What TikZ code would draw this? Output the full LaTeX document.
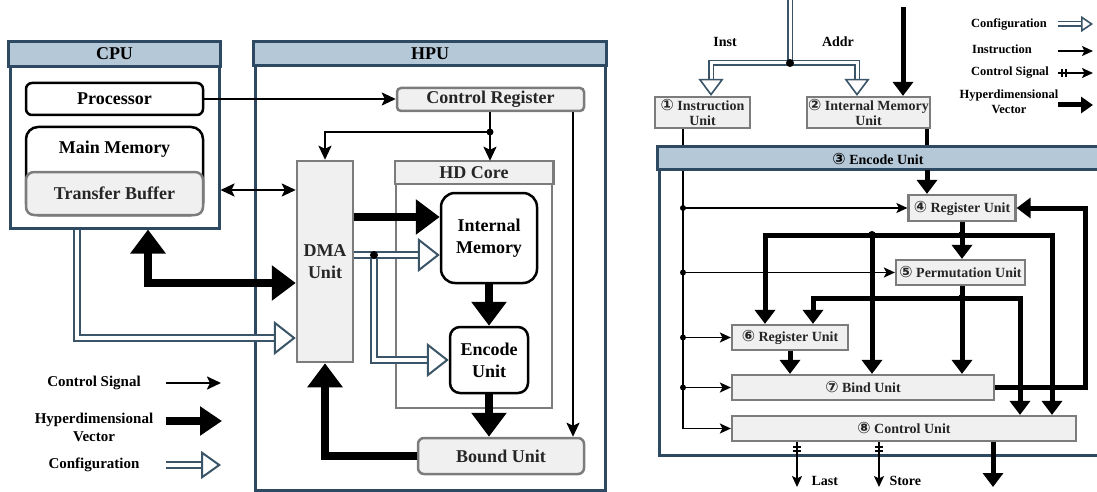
\documentclass[tikz,border=0pt]{standalone}
\usepackage{fontspec}
\setmainfont{Liberation Serif}
\newfontfamily\circfont{DejaVu Sans}[Scale=1.12]
\usetikzlibrary{arrows.meta,calc}
\definecolor{frameblue}{HTML}{2E4A62}
\definecolor{bandfill}{HTML}{B5C8D8}
\definecolor{boxfill}{HTML}{F0F0F0}
\definecolor{boxgray}{HTML}{7C7C7C}
\definecolor{cfgc}{HTML}{3A5468}
\newcommand\cnum[1]{{\circfont #1}}
\tikzset{
  big/.style={font=\fontsize{18}{22}\selectfont\bfseries, align=center},
  leg/.style={font=\fontsize{15}{18}\selectfont\bfseries, align=center},
  sml/.style={font=\fontsize{14}{15}\selectfont\bfseries, align=center},
  tinytext/.style={font=\fontsize{12.5}{15}\selectfont\bfseries, align=center},
  unitframe/.style={draw=frameblue, line width=3pt},
  unitband/.style={draw=frameblue, fill=bandfill, line width=3pt},
  gbox/.style={draw=boxgray, fill=boxfill, line width=2.5pt, rounded corners=4pt, inner sep=0pt, text=black!85},
  bbox/.style={draw=black, fill=white, line width=2.5pt, rounded corners=10pt, inner sep=0pt},
  rbox/.style={draw=boxgray, fill=boxfill, line width=2.2pt, inner sep=0pt, sml, text=black!85},
  ctl/.style={draw=black, line width=2.2pt, -{Stealth[length=14pt,width=13pt,inset=3pt]}},
  ctlboth/.style={draw=black, line width=2.2pt, {Stealth[length=14pt,width=13pt,inset=3pt]}-{Stealth[length=14pt,width=13pt,inset=3pt]}},
  hd/.style={draw=black, line width=8pt, -{Triangle[length=24pt,width=34pt]}},
  hdboth/.style={draw=black, line width=8pt, {Triangle[length=24pt,width=34pt]}-{Triangle[length=24pt,width=34pt]}},
  cfg/.style={draw=cfgc, line width=2pt, double=white, double distance=3.5pt},
  cfgtip/.style={draw=cfgc, line width=2pt, -{Triangle[length=22pt,width=34pt,fill=white]}},
  ctltwo/.style={draw=black, line width=1.8pt, -{Stealth[length=11pt,width=10pt,inset=2.5pt]}},
  thinline/.style={draw=black, line width=1.8pt},
  hdtwo/.style={draw=black, line width=5pt, -{Triangle[length=14pt,width=20pt]}},
  cfgtwo/.style={draw=cfgc, line width=1.6pt, double=white, double distance=3pt},
  cfgtwotip/.style={draw=cfgc, line width=1.6pt, -{Triangle[length=17pt,width=25pt,fill=white]}},
  jdot/.style={circle, fill=black, inner sep=0pt, minimum size=8pt},
  sdot/.style={circle, fill=black, inner sep=0pt, minimum size=6pt},
}
\begin{document}
\begin{tikzpicture}[x=1pt,y=-1pt]
\useasboundingbox (0,0) rectangle (1097,492);

% ---------- left: CPU / HPU ----------
\node[unitframe, minimum width=209, minimum height=185] (cpu) at (114.5,135.5) {};
\draw[unitband] (cpu.north west) rectangle ($(cpu.north east)+(0,25)$);
\node[big] (cputitle) at ($(cpu.north)+(0,12.5)$) {CPU};

\node[unitframe, minimum width=350, minimum height=447] (hpu) at (430,266.5) {};
\draw[unitband] (hpu.north west) rectangle ($(hpu.north east)+(0,24)$);
\node[big] (hputitle) at ($(hpu.north)+(0,12)$) {HPU};

\node[bbox, big, minimum width=177, minimum height=32, rounded corners=6pt] (proc) at (114.5,99) {Processor};
\node[bbox, minimum width=177, minimum height=88, rounded corners=12pt] (mem) at (114.5,171) {};
\node[big] (memtitle) at (114.5,149) {Main Memory};
\node[gbox, big, minimum width=177, minimum height=43, rounded corners=8pt] (tbuf) at (114.5,193.5) {Transfer Buffer};

\node[gbox, big, minimum width=187, minimum height=23] (cr) at (490.5,99.5) {Control Register};
\node[gbox, big, rounded corners=0pt, minimum width=56, minimum height=201] (dma) at (325,261.5) {DMA\\Unit};
\node[draw=boxgray, line width=2.5pt, minimum width=156, minimum height=246] (hdc) at (474,285) {};
\draw[draw=boxgray, fill=boxfill, line width=2.5pt] (hdc.north west) rectangle ($(hdc.north east)+(0,23)$);
\node[big, text=black!85] (hdctitle) at ($(hdc.north)+(0,11.5)$) {HD Core};
\node[bbox, big, minimum width=96, minimum height=90, rounded corners=14pt] (im) at (489,238) {Internal\\Memory};
\node[bbox, big, minimum width=78, minimum height=66, rounded corners=10pt] (enc) at (489,360) {Encode\\Unit};
\node[gbox, big, minimum width=166, minimum height=36, rounded corners=6pt] (bound) at (501,456) {Bound Unit};

% control paths
\coordinate (crdot) at (490,132);
\coordinate (crx) at (573,0);
\coordinate (biy) at (0,190);
\draw[thinline, line width=2.2pt] (cr.south -| crdot) -- (crdot);
\draw[ctl] (crdot) -| (dma.north);
\draw[ctl] (crdot) -- (crdot |- hdc.north);
\node[sdot, minimum size=7pt] (crdotmark) at (crdot) {};
\draw[ctl] (proc.east) -- (proc.east -| cr.west);
\draw[ctl] (cr.south -| crx) -- (bound.north -| crx);
\draw[ctlboth] (cpu.east |- biy) -- (dma.west |- biy);

% hyperdimensional vectors
\coordinate (hdx) at (148,283);
\coordinate (hdy) at (0,217);
\draw[hdboth] (cpu.south -| hdx) |- (dma.west |- hdx);
\draw[hd] (dma.east |- hdy) -- (im.west |- hdy);
\draw[hd] (im.south) -- (enc.north);
\draw[hd] (enc.south) -- (enc.south |- bound.north);
\draw[hd] (bound.west) -| (dma.south);

% configuration
\coordinate (cfx) at (77,338);
\coordinate (cdot1) at (374,255);
\draw[cfg] (cpu.south -| cfx) |- ($(dma.west |- cfx)+(-20,0)$);
\draw[cfgtip] ($(dma.west |- cfx)+(-22,0)$) -- (dma.west |- cfx);
\draw[cfg] (cdot1) |- ($(enc.west)+(-20,0)$);
\draw[cfgtip] ($(enc.west)+(-22,0)$) -- (enc.west);
\draw[cfg] (dma.east |- cdot1) -- ($(im.west |- cdot1)+(-20,0)$);
\draw[cfgtip] ($(im.west |- cdot1)+(-22,0)$) -- (im.west |- cdot1);
\node[jdot] (cdot1mark) at (cdot1) {};

% legend
\node[leg] (lcs) at (94,383) {Control Signal};
\node[leg] (lhd) at (94,427) {Hyperdimensional\\Vector};
\node[leg] (lcf) at (94,465) {Configuration};
\coordinate (lcsA) at (166,383); \coordinate (lcsB) at (221,383);
\coordinate (lhdA) at (166,421); \coordinate (lhdB) at (222,421);
\coordinate (lcfA) at (166,465); \coordinate (lcfB) at (221,465);
\draw[ctl] (lcsA) -- (lcsB);
\draw[draw=black, line width=8pt, -{Triangle[length=22pt,width=28pt]}] (lhdA) -- (lhdB);
\draw[cfg] (lcfA) -- ($(lcfB)+(-18,0)$);
\draw[cfgtip, -{Triangle[length=20pt,width=28pt,fill=white]}] ($(lcfB)+(-20,0)$) -- (lcfB);

% ---------- right: encode pipeline ----------
\node[unitframe, fill=white, minimum width=460, minimum height=307] (encf) at (889,301.5) {};

\node[rbox, minimum width=95, minimum height=31] (iu) at (702.5,112.5) {\cnum{①} Instruction\\Unit};
\node[rbox, minimum width=123, minimum height=31] (imu) at (868.5,112.5) {\cnum{②} Internal Memory\\Unit};
\node[rbox, minimum width=107, minimum height=26] (r4) at (962,208) {\cnum{④} Register Unit};
\node[rbox, minimum width=129, minimum height=25] (r5) at (960.5,272.5) {\cnum{⑤} Permutation Unit};
\node[rbox, minimum width=116, minimum height=25] (r6) at (790,337.5) {\cnum{⑥} Register Unit};
\node[rbox, minimum width=262, minimum height=25] (bind) at (863,387.5) {\cnum{⑦} Bind Unit};
\node[rbox, minimum width=344, minimum height=25] (ctrl) at (904,428.5) {\cnum{⑧} Control Unit};

\coordinate (lx) at (683,0);
\coordinate (mx) at (927,0);
\draw[ctltwo] (iu.south -| lx) |- (ctrl.west);
\draw[thinline, line width=3.5pt] (imu.south -| mx) -- (encf.north -| mx);

\draw[unitband] (encf.north west) rectangle ($(encf.north east)+(0,23)$);
\node[sml] (enctitle) at (878,159.5) {\cnum{③} Encode Unit};

% instruction fan-out
\draw[ctltwo] (lx |- r4.west) -- (r4.west);
\draw[ctltwo] (lx |- r5.west) -- (r5.west);
\draw[ctltwo] (lx |- r6.west) -- (r6.west);
\draw[ctltwo] (lx |- bind.west) -- (bind.west);
\node[sdot] (d4) at (lx |- r4.west) {};
\node[sdot] (d5) at (lx |- r5.west) {};
\node[sdot] (d6) at (lx |- r6.west) {};
\node[sdot] (d7) at (lx |- bind.west) {};

% top inputs
\coordinate (ctop) at (790,0);
\coordinate (cdot2) at (790,63);
\coordinate (ix) at (711,0);
\coordinate (mx2) at (857,0);
\coordinate (htop) at (903,7);
\draw[cfgtwo] (ctop) -- (cdot2);
\draw[cfgtwo] (cdot2) -| ($(iu.north -| ix)+(0,-15)$);
\draw[cfgtwotip] ($(iu.north -| ix)+(0,-17)$) -- (iu.north -| ix);
\draw[cfgtwo] (cdot2) -| ($(imu.north -| mx2)+(0,-15)$);
\draw[cfgtwotip] ($(imu.north -| mx2)+(0,-17)$) -- (imu.north -| mx2);
\node[jdot] (cdot2mark) at (cdot2) {};
\draw[hdtwo] (htop) -- (imu.north -| htop);
\node[sml] (linst) at (725,42) {Inst};
\node[sml] (laddr) at (838,42) {Addr};

% vector datapath
\coordinate (vx) at (962,0);
\coordinate (j4) at (962,235);
\coordinate (j5) at (962,298);
\coordinate (a765) at (765,0);
\coordinate (a813) at (813,0);
\coordinate (a872) at (872,235);
\coordinate (a1020) at (1020,0);
\coordinate (a1052) at (1052,0);
\coordinate (c1085) at (1085,208);
\draw[hdtwo] ($(encf.north -| mx)+(0,23)$) -- (r4.north -| mx);
\draw[hdtwo] (r4.south -| vx) -- (r5.north -| vx);
\draw[hdtwo] (j4) -| (r6.north -| a765);
\draw[hdtwo] (j4) -| (ctrl.north -| a1052);
\draw[hdtwo] (a872) -- (a872 |- bind.north);
\draw[hdtwo] (r5.south -| vx) -- (bind.north -| vx);
\draw[hdtwo] (j5) -| (r6.north -| a813);
\draw[hdtwo] (j5) -| (ctrl.north -| a1020);
\draw[hdtwo] (r6.south) -- (r6.south |- bind.north);
\draw[hdtwo] (bind.east) -| (c1085) -- (r4.east);
\node[jdot] (j4mark) at (j4) {};
\node[jdot] (j5mark) at (j5) {};
\node[jdot] (a872mark) at (a872) {};

% outputs
\coordinate (lastx) at (797,487);
\coordinate (storex) at (879,487);
\coordinate (outx) at (993,487);
\draw[ctltwo] (ctrl.south -| lastx) -- (lastx);
\draw[ctltwo] (ctrl.south -| storex) -- (storex);
\foreach \p in {lastx,storex}{
  \draw[line width=1.5pt] ($(ctrl.south -| \p)+(-4,5)$) -- ++(8,0);
  \draw[line width=1.5pt] ($(ctrl.south -| \p)+(-4,9)$) -- ++(8,0);
}
\draw[hdtwo] (ctrl.south -| outx) -- (outx);
\node[sml, anchor=west] (llast) at (808,481) {Last};
\node[sml, anchor=west] (lstore) at (886,481) {Store};

% legend
\node[tinytext] (rcf) at (1009,24) {Configuration};
\node[tinytext] (rin) at (1002,49) {Instruction};
\node[tinytext] (rcs) at (1010,73) {Control Signal};
\node[tinytext] (rhd) at (1009,102) {Hyperdimensional\\Vector};
\coordinate (rcfA) at (1058,24); \coordinate (rcfB) at (1093,24);
\coordinate (rinA) at (1058,51); \coordinate (rinB) at (1093,51);
\coordinate (rcsA) at (1058,73); \coordinate (rcsB) at (1093,73);
\coordinate (rhdA) at (1058,105); \coordinate (rhdB) at (1093,105);
\draw[cfgtwo] (rcfA) -- ($(rcfB)+(-10,0)$);
\draw[cfgtwotip, -{Triangle[length=12pt,width=16pt,fill=white]}] ($(rcfB)+(-12,0)$) -- (rcfB);
\draw[ctltwo, line width=1.4pt] (rinA) -- (rinB);
\draw[ctltwo] (rcsA) -- (rcsB);
\draw[line width=1.5pt] ($(rcsA)+(4,-4)$) -- ++(0,8);
\draw[line width=1.5pt] ($(rcsA)+(8,-4)$) -- ++(0,8);
\draw[draw=black, line width=5pt, -{Triangle[length=12pt,width=16pt]}] (rhdA) -- (rhdB);
\end{tikzpicture}
\end{document}
